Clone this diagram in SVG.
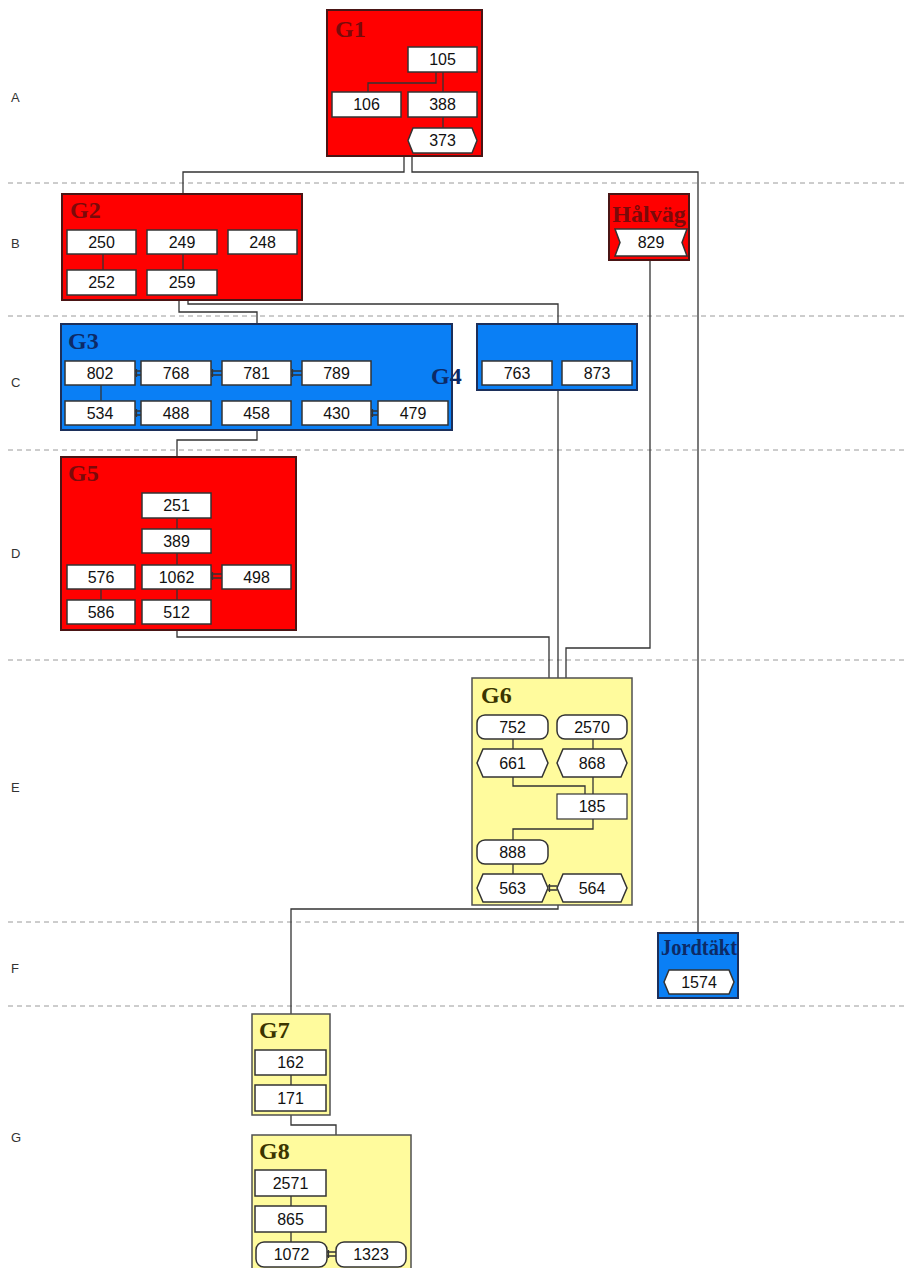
<svg xmlns="http://www.w3.org/2000/svg" width="906" height="1268" viewBox="0 0 906 1268">
<style>
.ln{stroke:#333;stroke-width:1.3;fill:none}
.n{fill:#fff;stroke:#333;stroke-width:1.5}
.t{font-family:"Liberation Sans",Arial,sans-serif;font-size:16px;text-anchor:middle;fill:#111}
.ttl{font-family:"Liberation Serif","Times New Roman",serif;font-weight:bold;font-size:24px}
.red{fill:#ff0000;stroke:#4a1515;stroke-width:2}
.blue{fill:#0a7ff5;stroke:#1c2f5a;stroke-width:2}
.yel{fill:#fffb9d;stroke:#505050;stroke-width:1.5}
.tr{fill:#7a0a0a}
.tb{fill:#0d2a66}
.ty{fill:#3b3500}
.row{font-family:"Liberation Sans",Arial,sans-serif;font-size:13px;fill:#333}
.dash{stroke:#9a9a9a;stroke-dasharray:5,4;stroke-width:1}
</style>
<rect width="906" height="1268" fill="#fff"/>
<g id="rows">
<line class="dash" x1="8" y1="183" x2="906" y2="183"/>
<line class="dash" x1="8" y1="316" x2="906" y2="316"/>
<line class="dash" x1="8" y1="450" x2="906" y2="450"/>
<line class="dash" x1="8" y1="660" x2="906" y2="660"/>
<line class="dash" x1="8" y1="922" x2="906" y2="922"/>
<line class="dash" x1="8" y1="1006" x2="906" y2="1006"/>
<text class="row" x="11" y="102">A</text>
<text class="row" x="11" y="248">B</text>
<text class="row" x="11" y="387">C</text>
<text class="row" x="11" y="558">D</text>
<text class="row" x="11" y="792">E</text>
<text class="row" x="11" y="973">F</text>
<text class="row" x="11" y="1142">G</text>
</g>
<g id="connectors">
<path class="ln" d="M404,156 V172 H183 V194"/>
<path class="ln" d="M412,156 V172 H698 V933"/>
<path class="ln" d="M179,300 V312 H257 V324"/>
<path class="ln" d="M188,300 V304 H558 V324"/>
<path class="ln" d="M257,430 V440 H177 V457"/>
<path class="ln" d="M558,390 V678"/>
<path class="ln" d="M177,630 V637 H549 V678"/>
<path class="ln" d="M650,260 V648 H566 V678"/>
<path class="ln" d="M558,905 V909 H291 V1014"/>
<path class="ln" d="M291,1115 V1125 H336 V1135"/>
</g>
<g id="G1">
<rect class="red" x="327" y="10" width="155" height="146"/>
<text class="ttl tr" x="335" y="37">G1</text>
<path class="ln" d="M436,72 V83 H368 V92 M443,72 V92 M443,117 V128"/>
<rect class="n" x="408" y="47" width="69" height="25"/><text class="t" x="442.5" y="65">105</text>
<rect class="n" x="332" y="92" width="69" height="25"/><text class="t" x="366.5" y="110">106</text>
<rect class="n" x="408" y="92" width="69" height="25"/><text class="t" x="442.5" y="110">388</text>
<polygon class="n" points="413,128 472,128 477,140.5 472,153 413,153 408,140.5"/><text class="t" x="442.5" y="146">373</text>
</g>
<g id="G2">
<rect class="red" x="62" y="194" width="240" height="106"/>
<text class="ttl tr" x="70" y="218">G2</text>
<path class="ln" d="M103,254 V270 M183,254 V270"/>
<rect class="n" x="67" y="230" width="69" height="24"/><text class="t" x="101.5" y="248">250</text>
<rect class="n" x="147" y="230" width="70" height="24"/><text class="t" x="182" y="248">249</text>
<rect class="n" x="228" y="230" width="69" height="24"/><text class="t" x="262.5" y="248">248</text>
<rect class="n" x="67" y="270" width="69" height="25"/><text class="t" x="101.5" y="288">252</text>
<rect class="n" x="147" y="270" width="70" height="25"/><text class="t" x="182" y="288">259</text>
</g>
<g id="Halvag">
<rect class="red" x="609" y="194" width="80" height="66"/>
<text class="ttl tr" x="649" y="222" text-anchor="middle">Hålväg</text>
<polygon class="n" points="615,229 687,229 682,242.5 687,256 615,256 620,242.5"/><text class="t" x="651" y="248">829</text>
</g>
<g id="G3">
<rect class="blue" x="61" y="324" width="391" height="106"/>
<text class="ttl tb" x="68" y="349">G3</text>
<path class="ln" d="M101,385 V401"/>
<path class="ln" d="M135,371 H141 M135,375 H141 M136.5,369 V377"/>
<path class="ln" d="M211,371 H222 M211,375 H222 M212.5,369 V377"/>
<path class="ln" d="M291,371 H302 M291,375 H302 M292.5,369 V377"/>
<path class="ln" d="M135,411 H141 M135,415 H141 M136.5,409 V417"/>
<path class="ln" d="M371,411 H378 M371,415 H378 M372.5,409 V417"/>
<rect class="n" x="65" y="361" width="70" height="24"/><text class="t" x="100" y="379">802</text>
<rect class="n" x="141" y="361" width="70" height="24"/><text class="t" x="176" y="379">768</text>
<rect class="n" x="222" y="361" width="69" height="24"/><text class="t" x="256.5" y="379">781</text>
<rect class="n" x="302" y="361" width="69" height="24"/><text class="t" x="336.5" y="379">789</text>
<rect class="n" x="65" y="401" width="70" height="24"/><text class="t" x="100" y="419">534</text>
<rect class="n" x="141" y="401" width="70" height="24"/><text class="t" x="176" y="419">488</text>
<rect class="n" x="222" y="401" width="69" height="24"/><text class="t" x="256.5" y="419">458</text>
<rect class="n" x="302" y="401" width="69" height="24"/><text class="t" x="336.5" y="419">430</text>
<rect class="n" x="378" y="401" width="70" height="24"/><text class="t" x="413" y="419">479</text>
</g>
<g id="G4">
<rect class="blue" x="477" y="324" width="160" height="66"/>
<text class="ttl tb" x="431" y="384">G4</text>
<rect class="n" x="482" y="361" width="70" height="24"/><text class="t" x="517" y="379">763</text>
<rect class="n" x="562" y="361" width="70" height="24"/><text class="t" x="597" y="379">873</text>
</g>
<g id="G5">
<rect class="red" x="61" y="457" width="235" height="173"/>
<text class="ttl tr" x="68" y="481">G5</text>
<path class="ln" d="M177,518 V529 M177,553 V565 M177,589 V600 M101,589 V600"/>
<path class="ln" d="M211,574 H222 M211,578 H222 M212.5,572 V580"/>
<rect class="n" x="142" y="493" width="69" height="25"/><text class="t" x="176.5" y="511">251</text>
<rect class="n" x="142" y="529" width="69" height="24"/><text class="t" x="176.5" y="547">389</text>
<rect class="n" x="67" y="565" width="68" height="24"/><text class="t" x="101" y="583">576</text>
<rect class="n" x="142" y="565" width="69" height="24"/><text class="t" x="176.5" y="583">1062</text>
<rect class="n" x="222" y="565" width="69" height="24"/><text class="t" x="256.5" y="583">498</text>
<rect class="n" x="67" y="600" width="68" height="24"/><text class="t" x="101" y="618">586</text>
<rect class="n" x="142" y="600" width="69" height="24"/><text class="t" x="176.5" y="618">512</text>
</g>
<g id="G6">
<rect class="yel" x="472" y="678" width="160" height="227"/>
<text class="ttl ty" x="481" y="703">G6</text>
<path class="ln" d="M513,739 V749 M593,739 V749 M513,777 V786 H585 V794 M593,777 V794 M593,819 V829 H513 V840 M513,864 V874"/>
<path class="ln" d="M548,886 H557 M548,890 H557 M549.5,884 V892"/>
<rect class="n" x="477" y="715" width="71" height="24" rx="8"/><text class="t" x="512.5" y="733">752</text>
<rect class="n" x="557" y="715" width="70" height="24" rx="8"/><text class="t" x="592" y="733">2570</text>
<polygon class="n" points="483,749 542,749 548,763 542,777 483,777 477,763"/><text class="t" x="512.5" y="769">661</text>
<polygon class="n" points="563,749 621,749 627,763 621,777 563,777 557,763"/><text class="t" x="592" y="769">868</text>
<rect x="557" y="794" width="70" height="25" fill="#fff" stroke="#333" stroke-width="1.2"/><text class="t" x="592" y="812">185</text>
<rect class="n" x="477" y="840" width="71" height="24" rx="8"/><text class="t" x="512.5" y="858">888</text>
<polygon class="n" points="483,874 542,874 548,888 542,902 483,902 477,888"/><text class="t" x="512.5" y="894">563</text>
<polygon class="n" points="563,874 621,874 627,888 621,902 563,902 557,888"/><text class="t" x="592" y="894">564</text>
</g>
<g id="Jordtakt">
<rect class="blue" x="658" y="933" width="80" height="65"/>
<text class="ttl tb" x="661" y="955" font-size="22" textLength="76" lengthAdjust="spacingAndGlyphs">Jordtäkt</text>
<polygon class="n" points="669,970 729,970 734,982 729,994 669,994 664,982"/><text class="t" x="699" y="988">1574</text>
</g>
<g id="G7">
<rect class="yel" x="252" y="1014" width="78" height="101"/>
<text class="ttl ty" x="259" y="1038">G7</text>
<path class="ln" d="M291,1075 V1085"/>
<rect class="n" x="255" y="1050" width="71" height="25"/><text class="t" x="290.5" y="1068">162</text>
<rect class="n" x="255" y="1085" width="71" height="26"/><text class="t" x="290.5" y="1104">171</text>
</g>
<g id="G8">
<rect class="yel" x="252" y="1135" width="159" height="145"/>
<text class="ttl ty" x="259" y="1159">G8</text>
<path class="ln" d="M291,1196 V1206 M291,1232 V1242"/>
<path class="ln" d="M327,1252 H336 M327,1256 H336 M328.5,1250 V1258"/>
<rect class="n" x="255" y="1170" width="71" height="26"/><text class="t" x="290.5" y="1189">2571</text>
<rect class="n" x="255" y="1206" width="71" height="26"/><text class="t" x="290.5" y="1225">865</text>
<rect class="n" x="256" y="1242" width="71" height="25" rx="8"/><text class="t" x="291.5" y="1260">1072</text>
<rect class="n" x="336" y="1242" width="70" height="25" rx="8"/><text class="t" x="371" y="1260">1323</text>
</g>
</svg>
